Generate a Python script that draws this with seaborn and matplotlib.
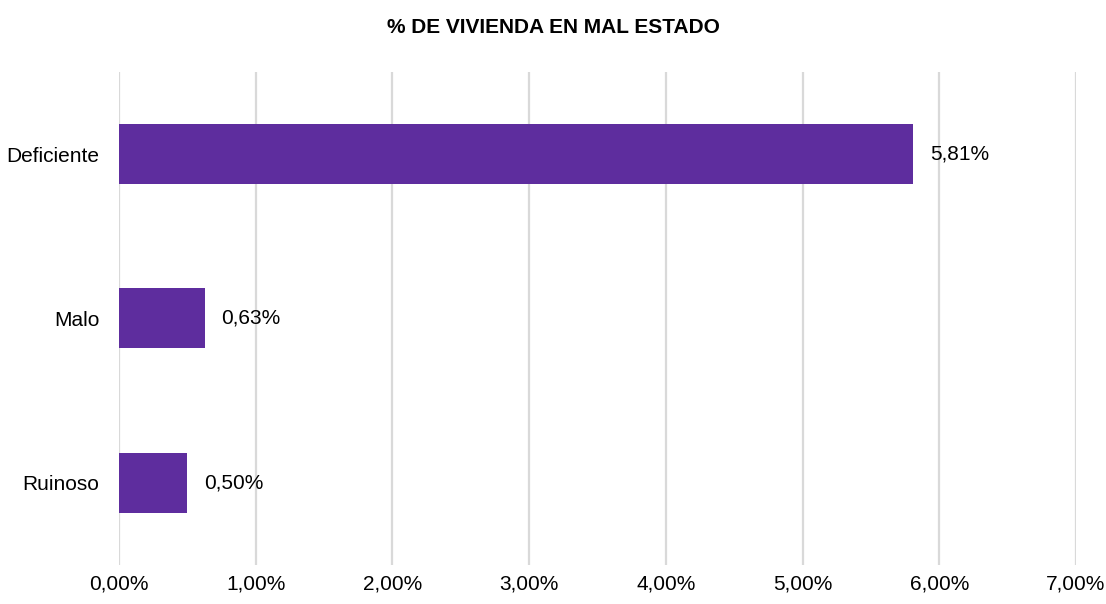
import matplotlib
matplotlib.use("Agg")
import matplotlib.pyplot as plt
import seaborn as sns
import pandas as pd
from matplotlib.ticker import FuncFormatter

categorias = ["Deficiente", "Malo", "Ruinoso"]
porcentajes = [5.81, 0.63, 0.50]
titulo = "% DE VIVIENDA EN MAL ESTADO"

df = pd.DataFrame({"Estado": categorias, "Porcentaje": porcentajes})

sns.set_style("white")
plt.rcParams["font.family"] = ["Liberation Sans Narrow", "Liberation Sans", "DejaVu Sans"]

fig = plt.figure(figsize=(11.06, 6.04), dpi=100)
ax = fig.add_axes([0.1076, 0.0646, 0.8653, 0.8162])

sns.barplot(data=df, x="Porcentaje", y="Estado", color="#5E2D9E",
            width=0.365, saturation=1, linewidth=0, ax=ax, zorder=3)

ax.set_xlim(0, 7)
ax.set_ylim(2.5, -0.5)
ax.set_xticks(range(0, 8))
ax.xaxis.set_major_formatter(FuncFormatter(lambda v, p: f"{v:.2f}%".replace(".", ",")))
ax.grid(axis="x", color="#D9D9D9", linewidth=1.6, zorder=0)
ax.grid(axis="y", visible=False)
for s in ax.spines.values():
    s.set_visible(False)
ax.tick_params(axis="both", length=0, labelsize=15, colors="black")
ax.tick_params(axis="x", pad=7)
ax.tick_params(axis="y", pad=14)
ax.set_xlabel("")
ax.set_ylabel("")

for i, v in enumerate(porcentajes):
    ax.text(v + 0.12, i, f"{v:.2f}%".replace(".", ","), va="center", ha="left",
            fontsize=15, color="black")

fig.text(0.5, 0.955, titulo, ha="center", va="center", fontsize=15,
         fontweight="bold", color="black")

fig.savefig("out.png", dpi=100)
